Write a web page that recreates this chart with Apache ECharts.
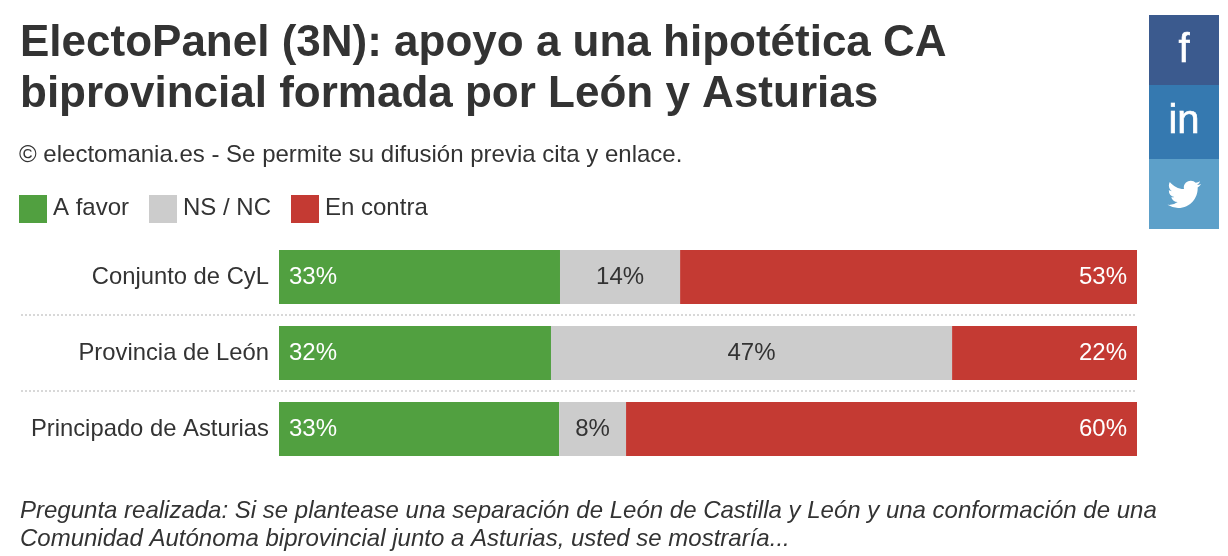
<!DOCTYPE html>
<html><head><meta charset="utf-8">
<style>html,body{margin:0;padding:0;background:#fff}#c{width:1228px;height:556px}</style>
<script src="https://cdn.jsdelivr.net/npm/echarts@6/dist/echarts.min.js"></script>
</head><body><div id="c"></div>
<script>
const categories = ['Conjunto de CyL','Provincia de León','Principado de Asturias'];
const favor = [32.75,31.7,32.65];
const nsnc = [14.0,46.75,7.8];
const contra = [53.25,21.55,59.55];
const favorLabels = ['33%','32%','33%'];
const nsncLabels = ['14%','47%','8%'];
const contraLabels = ['53%','22%','60%'];
const FONT = '"Liberation Sans", Helvetica, Arial, sans-serif';
const GREEN='#51a040', GREY='#cccccc', RED='#c43a33', INK='#333';
const BIRD='M23.953 4.57 a10 10 0 0 1 -2.825 .775 a4.958 4.958 0 0 0 2.163 -2.723 c-.951 .555 -2.005 .959 -3.127 1.184 a4.92 4.92 0 0 0 -8.384 4.482 C7.69 8.095 4.067 6.13 1.64 3.162 a4.822 4.822 0 0 0 -.666 2.475 c0 1.71 .87 3.213 2.188 4.096 a4.904 4.904 0 0 1 -2.228 -.616 v.06 a4.923 4.923 0 0 0 3.946 4.827 a4.996 4.996 0 0 1 -2.212 .085 a4.936 4.936 0 0 0 4.604 3.417 a9.867 9.867 0 0 1 -6.102 2.105 c-.39 0 -.779 -.023 -1.17 -.067 a13.995 13.995 0 0 0 7.557 2.209 c9.053 0 13.998 -7.496 13.998 -13.985 c0 -.21 0 -.42 -.015 -.63 A9.935 9.935 0 0 0 24 4.59 z';
echarts.graphic.registerShape('bird', echarts.graphic.extendPath(BIRD, {}));
const chart = echarts.init(document.getElementById('c'),null,{renderer:'canvas'});
function mk(name,data,labels,color,lc,pos,pad){
  return {name,type:'bar',stack:'t',data,barWidth:54,itemStyle:{color},
    label:{show:true,position:pos,color:lc,fontSize:24,fontFamily:FONT,padding:pad,
      formatter:p=>labels[p.dataIndex]}};
}
function tx(left,top,text,size,weight,style,color,lh){
  return {type:'text',left,top,style:{text,font:`${style||'normal'} ${weight||'normal'} ${size}px ${FONT}`,fill:color||INK,lineHeight:lh}};
}
function icon(y,h,color,text,size,dy){
  return [{type:'rect',shape:{x:1149,y,width:70,height:h},style:{fill:color}},
  {type:'text',x:1184,y:y+h/2+dy,style:{text,font:`normal ${size}px ${FONT}`,fill:'#fff',stroke:'#fff',lineWidth:0.6,align:'center',verticalAlign:'middle'}}];
}
const dots=y=>({type:'line',shape:{x1:21,y1:y,x2:1137,y2:y},style:{stroke:'#d8d8d8',lineWidth:2,lineDash:[2,2]}});
chart.setOption({
  animation:false,
  grid:{left:279,top:239,width:858,height:228,containLabel:false},
  xAxis:{type:'value',min:0,max:100,show:false},
  yAxis:{type:'category',inverse:true,data:categories,axisLine:{show:false},axisTick:{show:false},
    axisLabel:{color:INK,fontSize:23.8,fontFamily:FONT,margin:10},
    splitLine:{show:false}},
  series:[
    mk('A favor',favor,favorLabels,GREEN,'#fff','insideLeft',[0,0,0,5]),
    mk('NS / NC',nsnc,nsncLabels,GREY,INK,'inside',0),
    mk('En contra',contra,contraLabels,RED,'#fff','insideRight',[0,5,0,0])
  ],
  graphic:[
    tx(20,18,'ElectoPanel (3N): apoyo a una hipotética CA\nbiprovincial formada por León y Asturias',44,'bold','normal',INK,51),
    tx(19,143,'© electomania.es - Se permite su difusión previa cita y enlace.',24),
    {type:'rect',shape:{x:19,y:195,width:28,height:28},style:{fill:GREEN}},
    tx(53,196,'A favor',24),
    {type:'rect',shape:{x:149,y:195,width:28,height:28},style:{fill:GREY}},
    tx(183,196,'NS / NC',24),
    {type:'rect',shape:{x:291,y:195,width:28,height:28},style:{fill:RED}},
    tx(325,196,'En contra',24),
    dots(315),dots(391),
    tx(20,497,'Pregunta realizada: Si se plantease una separación de León de Castilla y León y una conformación de una\nComunidad Autónoma biprovincial junto a Asturias, usted se mostraría...',24,'normal','italic',INK,28),
    ...icon(15,70,'#3b5a8e','f',40,1),
    ...icon(85,74,'#3579b0','in',40,0),
    {type:'rect',shape:{x:1149,y:159,width:70,height:70},style:{fill:'#5da0c9'}},
    {type:'bird',x:1167.5,y:177.5,scaleX:1.4,scaleY:1.4,style:{fill:'#fff'}}
  ]
});
</script></body></html>
